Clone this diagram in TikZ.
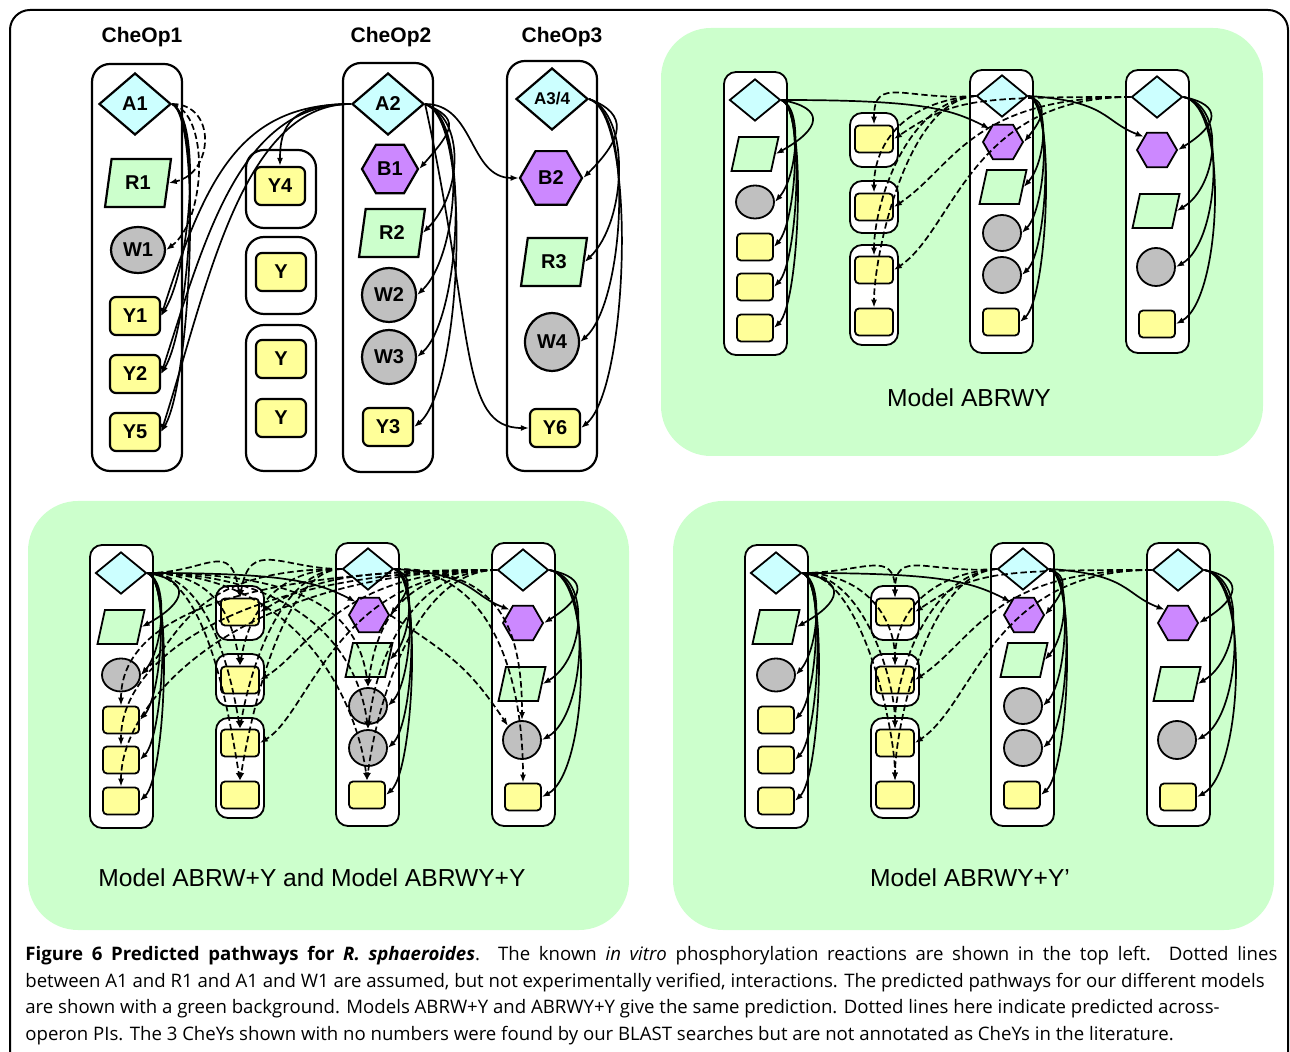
\documentclass[tikz,border=0pt]{standalone}
\usepackage{fontspec}
\setmainfont{Liberation Sans}
\newfontfamily\capfont{Open Sans}
\usetikzlibrary{shapes}
\usetikzlibrary{arrows.meta}
\usetikzlibrary{positioning}

\definecolor{cheAfill}{HTML}{CCFFFF}
\definecolor{cheRfill}{HTML}{CCFFCC}
\definecolor{cheBfill}{HTML}{CC88FF}
\definecolor{cheWfill}{HTML}{C0C0C0}
\definecolor{cheYfill}{HTML}{FFFF99}
\definecolor{panelfill}{HTML}{CCFFCC}

\tikzset{
  react/.style = {
    -{Latex[length=4pt,width=3pt]},
    line width=0.85pt
  },
  predicted/.style = {
    react,
    dash pattern=on 3.2pt off 1.6pt
  },
  opbox/.style = {draw, fill=white, line width=1.1pt, rounded corners=9pt},
  sopbox/.style = {opbox, line width=0.9pt, rounded corners=6pt},
  panelbg/.style = {fill=panelfill, rounded corners=25pt},
  oplabel/.style = {font=\bfseries\fontsize{10.5}{12}\selectfont},
  modellabel/.style = {font=\fontsize{12.3}{14}\selectfont},
  protein/.style = {draw, line width=1.1pt, inner sep=0pt, font=\bfseries\fontsize{10}{12}\selectfont},
  cheA/.style = {protein, diamond, fill=cheAfill, minimum width=36pt, minimum height=31pt},
  cheB/.style = {protein, regular polygon, regular polygon sides=6, fill=cheBfill, minimum size=28pt},
  cheR/.style = {protein, trapezium, trapezium stretches, trapezium left angle=77,
                 trapezium right angle=103, fill=cheRfill, minimum width=33pt, minimum height=24pt},
  cheW/.style = {protein, ellipse, fill=cheWfill, minimum width=27pt, minimum height=27pt},
  cheY/.style = {protein, rectangle, rounded corners=3pt, fill=cheYfill, minimum width=25pt, minimum height=19pt},
  % smaller copies for the model panels
  scheA/.style = {cheA, line width=0.9pt, inner sep=1pt, minimum width=25.5pt, minimum height=21pt},
  scheB/.style = {cheB, line width=0.9pt, inner sep=1pt, minimum size=20pt},
  scheR/.style = {cheR, line width=0.9pt, inner sep=1pt, minimum width=23.5pt, minimum height=17pt},
  scheW/.style = {cheW, line width=0.9pt, inner sep=1pt, minimum width=19pt, minimum height=18pt},
  scheY/.style = {cheY, line width=0.9pt, inner sep=1pt, rounded corners=2pt, minimum width=18pt, minimum height=13.5pt},
  pics/models/.style = {
    code = {
      % operon boxes
      \node [sopbox, minimum width=31.5pt, minimum height=141.5pt] (-op1) at (31.5,141.5) {};
      \node [sopbox, minimum width=24pt, minimum height=27pt] (-opa) at (150,68) {};
      \node [sopbox, minimum width=24pt, minimum height=26pt] (-opb) at (150,135) {};
      \node [sopbox, minimum width=24pt, minimum height=50pt] (-opc) at (150,223) {};
      \node [sopbox, minimum width=31.5pt, minimum height=141.5pt] (-op2) at (277.5,139.5) {};
      \node [sopbox, minimum width=31.5pt, minimum height=141.5pt] (-op3) at (433.5,139.5) {};

      % proteins
      \node [scheA] (-A1) at (31,28) {};
      \node [scheR] (-R1) at (31,82) {};
      \node [scheW, minimum height=16.5pt] (-W1) at (31,130) {};
      \foreach \n/\y in {Y1/175,Y2/215,Y5/256}
        \node [scheY] (-\n) at (31,\y) {};
      \foreach \n/\y in {Y4/67,Ya/135,Yb/198,Yc/250}
        \node [scheY, minimum width=19pt] (-\n) at (150,\y) {};
      \node [scheA] (-A2) at (278,24) {};
      \node [scheB] (-B1) at (279,70) {};
      \node [scheR] (-R2) at (279,115) {};
      \node [scheW] (-W2) at (278,161) {};
      \node [scheW] (-W3) at (278,203) {};
      \node [scheY] (-Y3) at (277,250) {};
      \node [scheA] (-A3) at (433,25) {};
      \node [scheB] (-B2) at (433,78) {};
      \node [scheR] (-R3) at (432,139) {};
      \node [scheW, minimum height=19pt] (-W4) at (432,195) {};
      \node [scheY] (-Y6) at (433,252) {};
    }
  },
}

\begin{document}
\begin{tikzpicture}[x=0.5pt, y=-0.5pt]
  \useasboundingbox (0,0) rectangle (1290,1052);
  \draw [line width=1pt, rounded corners=10pt] (10,1070) -- (10,10) -- (1288,10) -- (1288,1070);

  % known in vitro reactions
  \node [opbox, minimum width=45pt, minimum height=203.5pt] (op1) at (137,267.5) {};
  \node [opbox, minimum width=35pt, minimum height=39pt] (opa) at (281,189) {};
  \node [opbox, minimum width=35pt, minimum height=38.5pt] (opb) at (281,275.5) {};
  \node [opbox, minimum width=35pt, minimum height=73pt] (opc) at (281,398) {};
  \node [opbox, minimum width=45pt, minimum height=204.5pt] (op2) at (388,267.5) {};
  \node [opbox, minimum width=45pt, minimum height=205pt] (op3) at (552,266) {};

  \node [oplabel] (op1label) at (142,37) {CheOp1};
  \node [oplabel] (op2label) at (391,37) {CheOp2};
  \node [oplabel] (op3label) at (562,37) {CheOp3};

  \node [cheA] (A1) at (135,104) {A1};
  \node [cheR] (R1) at (138,183) {R1};
  \node [cheW, minimum height=23pt] (W1) at (138,250) {W1};
  \node [cheY] (Y1) at (135,316) {Y1};
  \node [cheY] (Y2) at (135,374) {Y2};
  \node [cheY] (Y5) at (135,432) {Y5};

  \node [cheY] (Y4) at (280,186) {Y4};
  \node [cheY] (Ya) at (281,272) {Y};
  \node [cheY] (Yb) at (281,359) {Y};
  \node [cheY] (Yc) at (281,418) {Y};

  \node [cheA] (A2) at (388,104) {A2};
  \node [cheB] (B1) at (390,169) {B1};
  \node [cheR] (R2) at (392,233) {R2};
  \node [cheW] (W2) at (389,295) {W2};
  \node [cheW] (W3) at (389,357) {W3};
  \node [cheY] (Y3) at (388,427) {Y3};

  \node [cheA, font=\bfseries\fontsize{8.5}{10}\selectfont] (A3) at (552,99) {A3/4};
  \node [cheB, minimum size=31pt] (B2) at (551,178) {B2};
  \node [cheR] (R3) at (554,262) {R3};
  \node [cheW, minimum height=29pt] (W4) at (552,342) {W4};
  \node [cheY] (Y6) at (555,428) {Y6};

  \draw [predicted] (A1.east) .. controls +(45,0) and +(45,-10) .. (R1.east);
  \draw [predicted] (A1.east) .. controls +(38,10) and +(40,-30) .. (W1.east);
  \foreach \t in {Y1,Y2,Y5}
    \draw [react] (A1.east) .. controls +(30,15) and +(30,-50) .. (\t.east);
  \foreach \t in {Y1,Y2,Y5}
    \draw [react] (A2.west) .. controls +(-110,0) and +(45,-140) .. (\t.east);
  \draw [react] (A2.west) .. controls +(-60,0) and +(0,-40) .. (Y4.north);
  \foreach \t/\b in {B1/35,R2/40,W2/42,W3/45,Y3/48}
    \draw [react] (A2.east) .. controls +(\b,15) and +(\b,-40) .. (\t.east);
  \draw [react] (A2.east) .. controls +(50,0) and +(-50,0) .. (B2.west);
  \draw [react] (A2.east) .. controls +(50,230) and +(-70,0) .. (Y6.west);
  \foreach \t/\b in {B2/40,R3/42,W4/45,Y6/48}
    \draw [react] (A3.east) .. controls +(\b,15) and +(\b,-40) .. (\t.east);

  % predicted pathways
  \node [panelbg, minimum width=301pt, minimum height=214pt] (trpanel) at (962,242) {};
  \node [panelbg, minimum width=300.5pt, minimum height=214.5pt] (blpanel) at (328.5,715.5) {};
  \node [panelbg, minimum width=300.5pt, minimum height=214.5pt] (brpanel) at (973.5,715.5) {};

  \pic (tr) at (724,72) {models};
  \pic (bl) at (90,545) {models};
  \pic (br) at (745,545) {models};

  \node [modellabel] (trlabel) at (969,398) {Model ABRWY};
  \node [modellabel] (bllabel) at (312,878) {Model ABRW+Y and Model ABRWY+Y};
  \node [modellabel] (brlabel) at (970,878) {Model ABRWY+Y'};

  \foreach \p in {tr,bl,br} {
    \foreach \t/\b in {R1/45,W1/22,Y1/22,Y2/24,Y5/26}
      \draw [react] (\p-A1.east) .. controls +(\b,8) and +(\b,-25) .. (\p-\t.east);
    \foreach \t/\b in {B1/20,R2/22,W2/24,W3/26,Y3/28}
      \draw [react] (\p-A2.east) .. controls +(\b,8) and +(\b,-25) .. (\p-\t.east);
    \foreach \t/\b in {B2/40,R3/42,W4/44,Y6/46}
      \draw [react] (\p-A3.east) .. controls +(\b,8) and +(\b,-25) .. (\p-\t.east);
    \draw [react] (\p-A1.east) .. controls +(140,0) and +(-40,-20) .. (\p-B1.north west);
    \draw [react] (\p-A2.east) .. controls +(80,5) and +(-40,-15) .. (\p-B2.north west);
  }

  % across-operon (dotted)
  \foreach \p in {tr,br} {
    \foreach \t in {Y4,Ya,Yb,Yc}
      \draw [predicted] (\p-A2.west) .. controls +(-70,5) and +(0,-50) .. (\p-\t.north);
    \foreach \t in {Y4,Ya,Yb}
      \draw [predicted] (\p-A3.west) .. controls +(-160,0) and +(60,-40) .. (\p-\t.east);
  }
  \foreach \t in {Y4,Ya,Yb,Yc}
    \draw [predicted] (br-A1.east) .. controls +(60,0) and +(0,-50) .. (br-\t.north);

  \foreach \t in {Y4,Ya,Yb,Yc} {
    \draw [predicted] (bl-A1.east) .. controls +(60,0) and +(-10,-60) .. (bl-\t.north);
    \draw [predicted] (bl-A2.west) .. controls +(-60,0) and +(10,-60) .. (bl-\t.north);
  }
  \foreach \t in {Y4,Ya,Yb}
    \draw [predicted] (bl-A3.west) .. controls +(-160,0) and +(50,-30) .. (bl-\t.east);
  \draw [predicted] (bl-A2.west) .. controls +(-150,0) and +(40,-40) .. (bl-W1.east);
  \foreach \t in {Y1,Y2,Y5}
    \draw [predicted] (bl-A3.west) .. controls +(-250,0) and +(0,-90) .. (bl-\t.north);
  \foreach \t in {W2,W3,Y3}
    \draw [predicted] (bl-A1.east) .. controls +(150,0) and +(-10,-80) .. (bl-\t.north);
  \foreach \t in {W2,W3,Y3}
    \draw [predicted] (bl-A3.west) .. controls +(-80,0) and +(10,-80) .. (bl-\t.north);
  \foreach \t in {W4,Y6}
    \draw [predicted] (bl-A2.east) .. controls +(100,0) and +(0,-100) .. (bl-\t.north);
  \draw [predicted] (bl-B1.east) .. controls +(60,40) and +(-40,-60) .. (bl-W4.north west);

  % caption
  \node [anchor=north west, align=left, inner sep=0pt,
         font=\capfont\fontsize{9.3}{13.25}\selectfont] (caption) at (25,946) {%
    \makebox[626pt][s]{\textbf{Figure 6 Predicted pathways for \textit{R. sphaeroides}}. The known \textit{in vitro} phosphorylation reactions are shown in the top left. Dotted lines}\\
    between A1 and R1 and A1 and W1 are assumed, but not experimentally verified, interactions. The predicted pathways for our different models\\
    are shown with a green background. Models ABRW+Y and ABRWY+Y give the same prediction. Dotted lines here indicate predicted across-\\
    operon PIs. The 3 CheYs shown with no numbers were found by our BLAST searches but are not annotated as CheYs in the literature.};
\end{tikzpicture}
\end{document}
